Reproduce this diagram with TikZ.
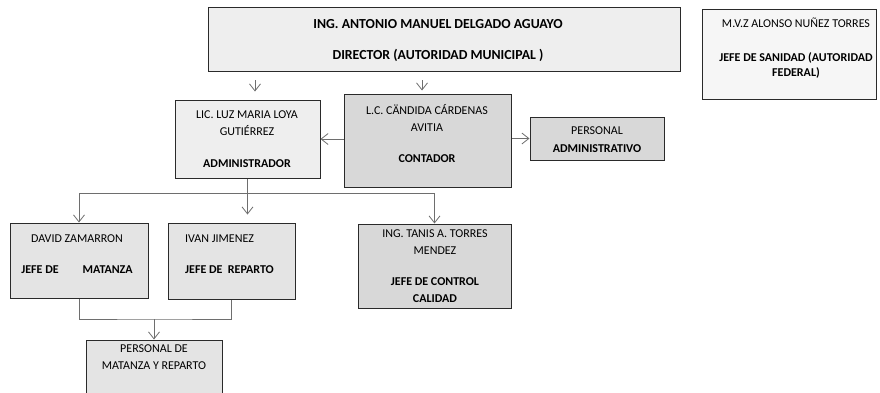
\documentclass[tikz,border=0pt]{standalone}
\usepackage{fontspec}
\setmainfont{Carlito}
\definecolor{BoxLine}{HTML}{2A2A2A}
\definecolor{LinkGray}{HTML}{6E6E6E}
\definecolor{FillLight}{HTML}{EEEEEE}
\definecolor{FillMid}{HTML}{E4E4E4}
\definecolor{FillDark}{HTML}{D8D8D8}
\definecolor{FillWhite}{HTML}{F6F6F6}
\usepackage{tikz}
\usetikzlibrary{positioning,calc,arrows.meta}

\tikzset{
  caja/.style={draw=BoxLine, line width=1pt, inner sep=0pt},
  texto/.style={inner sep=0pt, align=center, anchor=base,
    font=\fontsize{12}{17}\selectfont},
  linea/.style={draw=LinkGray, line width=0.8pt},
  flecha/.style={linea, -{Straight Barb[length=7pt,width=11pt]}}
}

\begin{document}
\begin{tikzpicture}[x=1pt,y=-1pt]
  \useasboundingbox (0,0) rectangle (880,392);

  % cajas
  \node[caja, fill=FillLight, minimum width=472pt, minimum height=64pt] (dir) at (444,39) {};
  \node[caja, fill=FillWhite, minimum width=174pt, minimum height=90pt] (san) at (789,54) {};
  \node[caja, fill=FillLight, minimum width=145pt, minimum height=78pt] (lic) at (247.5,139) {};
  \node[caja, fill=FillDark, minimum width=167pt, minimum height=93pt] (cont) at (427.5,140.5) {};
  \node[caja, fill=FillDark, minimum width=134pt, minimum height=43pt] (adm) at (597,138.5) {};
  \node[caja, fill=FillMid, minimum width=138pt, minimum height=75pt] (dav) at (79,260.5) {};
  \node[caja, fill=FillMid, minimum width=127pt, minimum height=76pt] (ivn) at (231.5,261) {};
  \node[caja, fill=FillDark, minimum width=153pt, minimum height=84pt] (tan) at (434.5,266) {};
  \node[caja, fill=FillMid, minimum width=136pt, minimum height=70pt] (per) at (154,375) {};

  % textos (anclados en la linea base de la ultima fila)
  \node[texto, font=\fontsize{13.8}{17}\selectfont] (dir-t) at (438,59.5)
    {\textbf{ING. ANTONIO MANUEL DELGADO AGUAYO}\\[14pt]
    \textbf{DIRECTOR (AUTORIDAD MUNICIPAL )}};
  \node[texto] (san-t) at (796,76) {M.V.Z ALONSO NUÑEZ TORRES\\[17pt]
    \textbf{JEFE DE SANIDAD (AUTORIDAD}\\[-2pt]\textbf{FEDERAL)}};
  \node[texto] (lic-t) at (247,167) {LIC. LUZ MARIA LOYA\\GUTIÉRREZ\\[15pt]
    \textbf{ADMINISTRADOR}};
  \node[texto] (cont-t) at (427,162) {L.C. CÄNDIDA CÁRDENAS\\AVITIA\\[14pt]
    \textbf{CONTADOR}};
  \node[texto] (adm-t) at (597,152) {PERSONAL\\[1pt]\textbf{ADMINISTRATIVO}};
  \node[texto] (dav-t) at (77,273) {DAVID ZAMARRON\\[14pt]
    \textbf{JEFE DE\hspace{24pt}MATANZA}};
  \node[texto, align=left, anchor=base west] (ivn-t) at (185,273) {IVAN JIMENEZ\\[14pt]
    \textbf{JEFE DE\ \ REPARTO}};
  \node[texto] (tan-t) at (435,302) {ING. TANIS A. TORRES\\MENDEZ\\[14pt]
    \textbf{JEFE DE CONTROL}\\\textbf{CALIDAD}};
  \node[texto] (per-t) at (154,369) {PERSONAL DE\\MATANZA Y REPARTO};

  % conexiones
  \coordinate (d1) at (255,80);
  \coordinate (d2) at (422,80);
  \draw[flecha, shorten >=8pt] (d1) -- (d1 |- lic.north);
  \draw[flecha, shorten >=3pt] (d2) -- (d2 |- cont.north);
  \draw[flecha] (cont.west |- lic.east) -- (lic.east);
  \draw[flecha] (cont.east |- adm.west) -- (adm.west);

  \coordinate (bus) at (247.5,193);
  \draw[linea] (lic.south) -- (bus);
  \draw[flecha] (bus) -| (dav.north);
  \draw[flecha] (bus) -| (tan.north);
  \draw[flecha, shorten >=8pt] (bus) -- (bus |- ivn.north);

  \coordinate (junta) at (154,319);
  \draw[linea] (dav.south) |- (junta) -| (ivn.south);
  \draw[flecha] (junta) -- (per.north);
\end{tikzpicture}
\end{document}
